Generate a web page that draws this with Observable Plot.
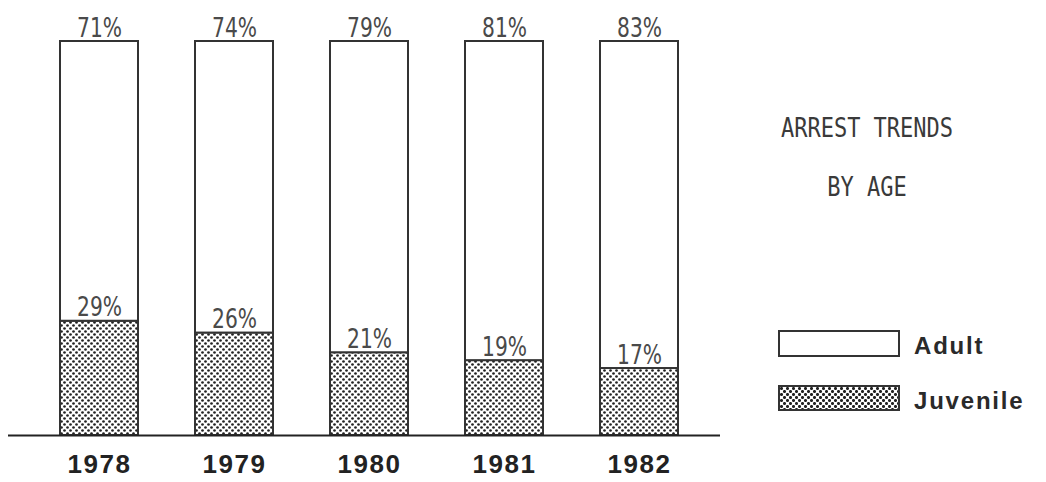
<!DOCTYPE html>
<html>
<head>
<meta charset="utf-8">
<script src="https://cdn.jsdelivr.net/npm/d3@7"></script>
<script src="https://cdn.jsdelivr.net/npm/@observablehq/plot@0.6"></script>
<style>
  html, body { margin: 0; padding: 0; background: #fff; }
  #wrap { position: relative; width: 1046px; height: 482px; overflow: hidden; background: #fff; }
  #chart svg { display: block; }
  #chart g[aria-label="x-axis tick label"] text { letter-spacing: 1.5px; }
  .title { position: absolute; left: 767px; width: 200px; text-align: center;
    font-family: "DejaVu Sans Mono", monospace; font-size: 22px; color: #3a3a3a; line-height: 1;
    transform: scaleY(1.22); transform-origin: center top; }
  .swatch { position: absolute; left: 778px; width: 122px; box-sizing: border-box; border: 2px solid #333; }
  .lab { position: absolute; left: 914px; font-family: "Liberation Sans", Arial, sans-serif; font-weight: bold;
    font-size: 24px; letter-spacing: 1.8px; color: #2a2a2a; line-height: 1; }
</style>
</head>
<body>
<div id="wrap">
  <div id="chart"></div>
  <div class="title" style="top:115px">ARREST TRENDS</div>
  <div class="title" style="top:174px">BY AGE</div>
  <div class="swatch" style="top:330px;height:27px;background:#fff"></div>
  <div class="lab" style="top:334px">Adult</div>
  <div class="swatch" style="top:385px;height:26px;" id="juvSwatch"></div>
  <div class="lab" style="top:389px">Juvenile</div>
</div>
<script>
const years = ["1978", "1979", "1980", "1981", "1982"];
const juvenile = [29, 26, 21, 19, 17];
const adult = [71, 74, 79, 81, 83];

const rows = years.map((year, i) => ({
  year,
  juvenile: juvenile[i],
  adult: adult[i],
  total: juvenile[i] + adult[i]
}));

const labelFont = "DejaVu Sans, sans-serif";

const plot = Plot.plot({
  width: 1046,
  height: 482,
  marginLeft: 8,
  marginRight: 326,
  marginTop: 41,
  marginBottom: 47,
  style: { background: "transparent", overflow: "visible" },
  x: { domain: years, paddingInner: 0.42, paddingOuter: 0.33, align: 0.55, label: null },
  y: { domain: [0, 100], axis: null },
  marks: [
    Plot.barY(rows, { x: "year", y1: 0, y2: "juvenile", fill: "url(#dots)", stroke: "#333", strokeWidth: 2 }),
    Plot.barY(rows, { x: "year", y1: "juvenile", y2: "total", fill: "white", stroke: "#333", strokeWidth: 2 }),
    Plot.text(rows, { x: "year", y: "total", text: d => d.adult + "%", lineAnchor: "bottom", dy: -5,
      fontSize: 23, fontFamily: labelFont, fill: "#4a4a4a" }),
    Plot.text(rows, { x: "year", y: "juvenile", text: d => d.juvenile + "%", lineAnchor: "bottom", dy: -5,
      fontSize: 23, fontFamily: labelFont, fill: "#4a4a4a" }),
    Plot.ruleY([0], { stroke: "#222", strokeWidth: 2 }),
    Plot.axisX({ tickSize: 0, tickPadding: 19, fontSize: 26, fontWeight: "bold",
      fontFamily: "Liberation Sans, Arial, sans-serif", fill: "#222", label: null })
  ]
});

// dotted pattern definition
const ns = "http://www.w3.org/2000/svg";
const defs = document.createElementNS(ns, "defs");
defs.innerHTML = `<pattern id="dots" width="6" height="6" patternUnits="userSpaceOnUse">
  <rect width="6" height="6" fill="#fff"/>
  <circle cx="1.5" cy="1.5" r="1.35" fill="#222"/>
  <circle cx="4.5" cy="4.5" r="1.35" fill="#222"/>
</pattern>`;
plot.insertBefore(defs, plot.firstChild);
// make percentage labels taller and narrower, like the typewriter original
plot.querySelectorAll('g[aria-label="text"] text').forEach(t => {
  const tr = t.getAttribute("transform") || "";
  t.setAttribute("transform", tr + " scale(0.88,1.12)");
});
document.getElementById("chart").appendChild(plot);

// legend swatch pattern (HTML)
const sw = document.getElementById("juvSwatch");
sw.style.backgroundImage = "radial-gradient(circle at 1.5px 1.5px, #222 1.3px, transparent 1.6px), radial-gradient(circle at 4.5px 4.5px, #222 1.3px, transparent 1.6px)";
sw.style.backgroundSize = "6px 6px";
sw.style.backgroundColor = "#fff";
</script>
</body>
</html>
